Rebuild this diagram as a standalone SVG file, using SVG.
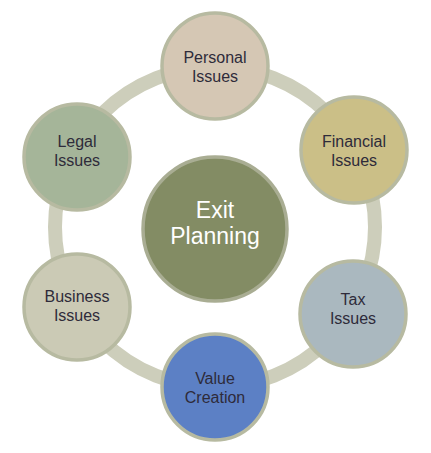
<svg xmlns="http://www.w3.org/2000/svg" width="431" height="453" viewBox="0 0 431 453">
<style>
.node{stroke:#b7baa1;stroke-width:3.5}
.lbl{font-family:"Liberation Sans",Arial,sans-serif;font-size:16px;fill:#2e2b3a;text-anchor:middle}
.big{font-family:"Liberation Sans",Arial,sans-serif;font-size:23px;fill:#ffffff;text-anchor:middle}
</style>
<rect width="431" height="453" fill="#ffffff"/>
<g id="connectors">
<circle cx="215" cy="227" r="160" fill="none" stroke="#cdcebb" stroke-width="14"/>
</g>
<g id="center">
<circle cx="215" cy="229" r="72" fill="#838c64" stroke="#a9ad93" stroke-width="3.5"/>
<text class="big" x="215" y="218">Exit</text>
<text class="big" x="215" y="244">Planning</text>
</g>
<g id="personal">
<circle class="node" cx="215" cy="66" r="53" fill="#d5c7b4"/>
<text class="lbl" x="215" y="63">Personal</text>
<text class="lbl" x="215" y="82">Issues</text>
</g>
<g id="financial">
<circle class="node" cx="354" cy="150" r="53" fill="#cbbf87"/>
<text class="lbl" x="354" y="147">Financial</text>
<text class="lbl" x="354" y="166">Issues</text>
</g>
<g id="tax">
<circle class="node" cx="353" cy="314" r="53" fill="#aab8bf"/>
<text class="lbl" x="353" y="305">Tax</text>
<text class="lbl" x="353" y="324">Issues</text>
</g>
<g id="value">
<circle class="node" cx="215" cy="387" r="53" fill="#5c80c5"/>
<text class="lbl" x="215" y="384">Value</text>
<text class="lbl" x="215" y="403">Creation</text>
</g>
<g id="business">
<circle class="node" cx="77" cy="307" r="53" fill="#cbcab5"/>
<text class="lbl" x="77" y="302">Business</text>
<text class="lbl" x="77" y="321">Issues</text>
</g>
<g id="legal">
<circle class="node" cx="77" cy="157" r="53" fill="#a5b599"/>
<text class="lbl" x="77" y="147">Legal</text>
<text class="lbl" x="77" y="166">Issues</text>
</g>
</svg>
